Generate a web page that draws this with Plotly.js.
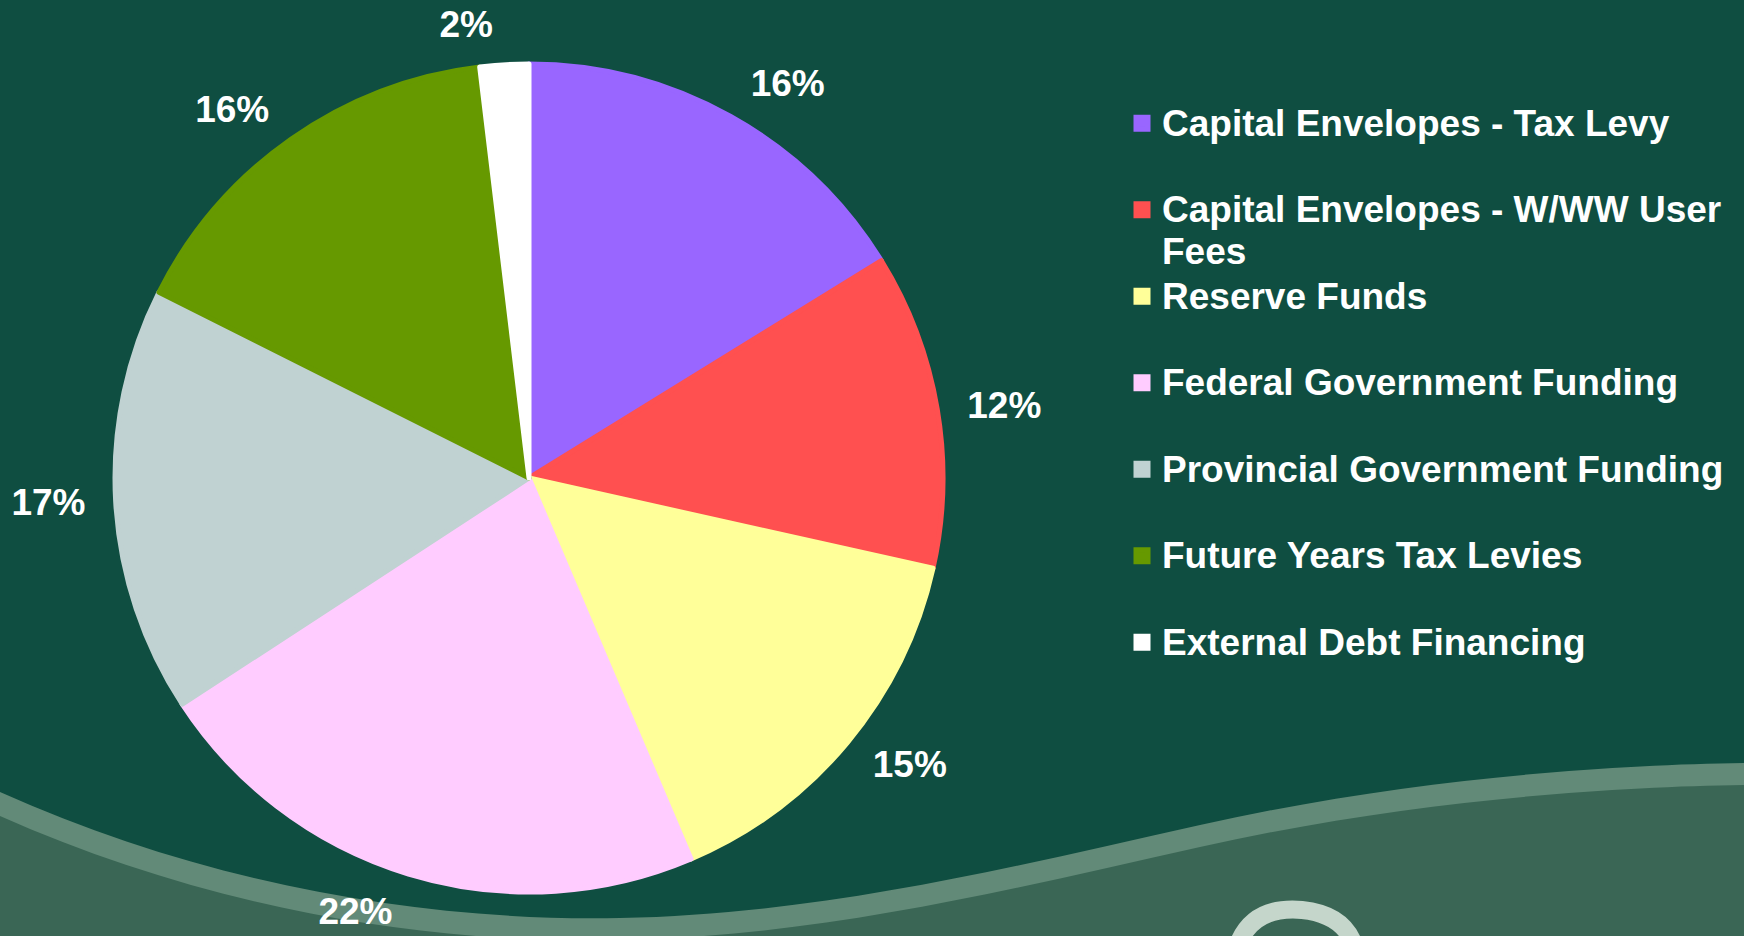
<!DOCTYPE html>
<html>
<head>
<meta charset="utf-8">
<script src="https://cdn.plot.ly/plotly-3.0.1.min.js"></script>
<style>
  html, body { margin: 0; padding: 0; background: #0f4e41; }
  #chart { width: 1744px; height: 936px; }
</style>
</head>
<body>
<div id="chart"></div>
<script>
var CHART = document.getElementById('chart');

var labels = [
  'Capital Envelopes - Tax Levy',
  'Capital Envelopes - W/WW User Fees',
  'Reserve Funds',
  'Federal Government Funding',
  'Provincial Government Funding',
  'Future Years Tax Levies',
  'External Debt Financing'
];
var shares = [16.2, 12.3, 15.1, 22.2, 16.6, 15.7, 1.9];
var colors = ['#9966ff', '#ff5050', '#ffff99', '#ffccff', '#c0d2d2', '#669900', '#ffffff'];

var W = 1744, H = 936;
var cx = 529, cy = 478, r = 414;   // pie centre / radius in px
var labelR = r + 20;               // ring the % labels sit outside of

// legend text: big span, every entry two lines tall so rows are evenly spaced
var legendText = labels.map(function (l) {
  var big = "<span style='font-size:37px'>";
  if (l === 'Capital Envelopes - W/WW User Fees') {
    return big + 'Capital Envelopes - W/WW User</span><br>' + big + 'Fees</span>';
  }
  return big + l + '</span><br> ';
});

// pixel -> paper helper for the background wave
function pt(x, y) { return (x / W).toFixed(4) + ',' + (1 - y / H).toFixed(4); }

var stripePath = 'M' + pt(0, 792) +
  ' C' + pt(200, 882) + ' ' + pt(420, 922) + ' ' + pt(620, 918) +
  ' C' + pt(820, 914) + ' ' + pt(1000, 870) + ' ' + pt(1200, 825) +
  ' C' + pt(1400, 780) + ' ' + pt(1600, 765) + ' ' + pt(1744, 763) +
  ' L' + pt(1744, 940) + ' L' + pt(0, 940) + ' Z';

var lowerPath = 'M' + pt(0, 816) +
  ' C' + pt(200, 905) + ' ' + pt(420, 945) + ' ' + pt(620, 940) +
  ' C' + pt(820, 936) + ' ' + pt(1000, 892) + ' ' + pt(1200, 847) +
  ' C' + pt(1400, 802) + ' ' + pt(1600, 787) + ' ' + pt(1744, 785) +
  ' L' + pt(1744, 960) + ' L' + pt(0, 960) + ' Z';

var logoPath = 'M' + pt(1240, 940) +
  ' Q' + pt(1256, 906) + ' ' + pt(1302, 910) +
  ' Q' + pt(1340, 914) + ' ' + pt(1352, 940);

var labelFont = { family: 'Liberation Sans, Arial, sans-serif', size: 37, color: '#ffffff', weight: 'bold' };

var pie = {
  type: 'pie',
  labels: legendText,
  values: shares,
  sort: false,
  direction: 'clockwise',
  rotation: 0,
  marker: {
    colors: colors,
    line: { color: colors, width: 5 }
  },
  textinfo: 'none',
  domain: { x: [(cx - r) / W, (cx + r) / W], y: [1 - (cy + r) / H, 1 - (cy - r) / H] },
  hoverinfo: 'none'
};

// same slices, transparent and a bit larger, only to carry the % labels
var pieLabels = {
  type: 'pie',
  labels: legendText,
  values: shares,
  sort: false,
  direction: 'clockwise',
  rotation: 0,
  showlegend: false,
  marker: { colors: colors.map(function () { return 'rgba(0,0,0,0)'; }), line: { width: 0 } },
  texttemplate: '%{percent:.0%}',
  textposition: 'outside',
  textfont: labelFont,
  outsidetextfont: labelFont,
  domain: { x: [(cx - labelR) / W, (cx + labelR) / W], y: [1 - (cy + labelR) / H, 1 - (cy - labelR) / H] },
  hoverinfo: 'none'
};

var layout = {
  width: W,
  height: H,
  margin: { l: 0, r: 0, t: 0, b: 0 },
  paper_bgcolor: '#0f4e41',
  plot_bgcolor: '#0f4e41',
  showlegend: true,
  legend: {
    x: 1122 / W,
    xanchor: 'left',
    y: 1 - 96 / H,
    yanchor: 'top',
    valign: 'top',
    itemwidth: 30,
    bgcolor: 'rgba(0,0,0,0)',
    borderwidth: 0,
    font: { family: 'Liberation Sans, Arial, sans-serif', size: 32.1, color: '#ffffff', weight: 'bold' }
  },
  shapes: [
    { type: 'path', xref: 'paper', yref: 'paper', layer: 'below', path: stripePath,
      fillcolor: '#628a78', line: { width: 0 } },
    { type: 'path', xref: 'paper', yref: 'paper', layer: 'below', path: lowerPath,
      fillcolor: '#3a6655', line: { width: 0 } },
    { type: 'path', xref: 'paper', yref: 'paper', layer: 'below', path: logoPath,
      line: { color: '#c5d6cb', width: 18 } }
  ]
};

Plotly.newPlot(CHART, [pie, pieLabels], layout, { displayModeBar: false, staticPlot: true });
</script>
</body>
</html>
